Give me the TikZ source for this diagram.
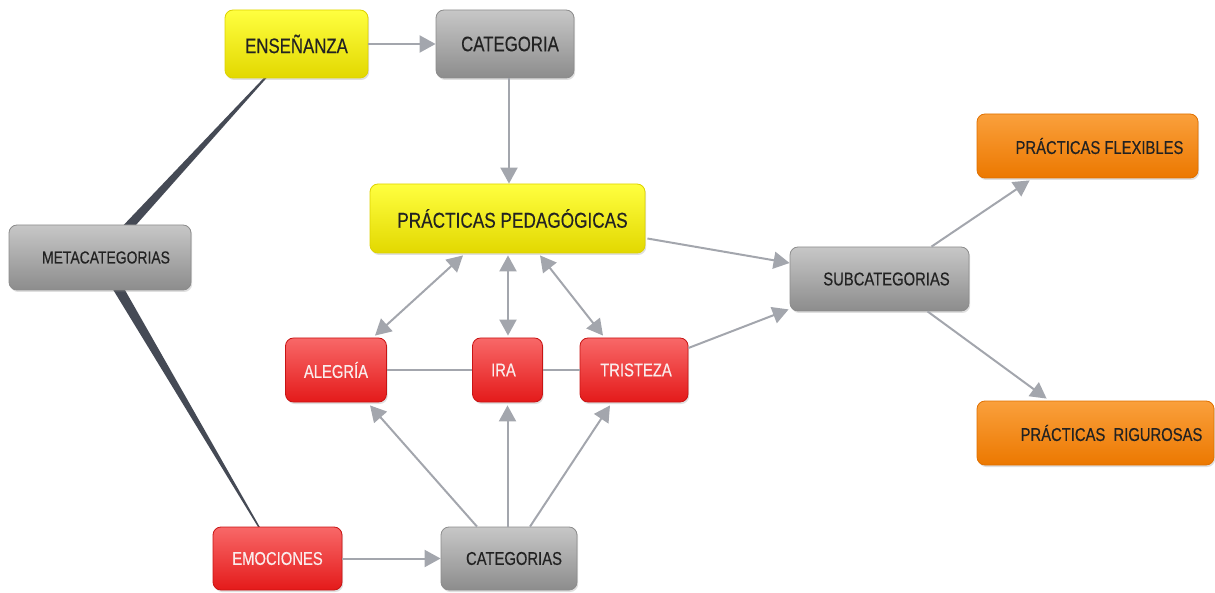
\documentclass[tikz,border=0pt]{standalone}
\usepackage{fontspec}
\setmainfont{Liberation Sans}[FakeStretch=0.80, FakeBold=0.35]
\usetikzlibrary{arrows.meta,calc,shadows,backgrounds}

\definecolor{txtdark}{HTML}{222222}
\definecolor{txtlight}{HTML}{FAEDED}
\definecolor{linkgray}{HTML}{A3A6AD}
\definecolor{wedgecol}{HTML}{454A55}

\tikzset{
  box/.style={rounded corners=8pt, line width=0.8pt, shading=axis,
    drop shadow={opacity=0.25, shadow xshift=1.2pt, shadow yshift=-2pt},
    font=\fontsize{18.5}{20}\selectfont, text=txtdark, inner sep=0pt},
  yellowbox/.style={box, draw=yellow!70!olive, top color=yellow!75!white,
    middle color={rgb,255:red,238;green,230;blue,10}, bottom color={rgb,255:red,226;green,216;blue,0}},
  graybox/.style={box, draw=black!45, top color=black!22, middle color=black!33,
    bottom color=black!45},
  redbox/.style={box, draw={rgb,255:red,200;green,20;blue,20}, text=txtlight,
    top color={rgb,255:red,248;green,104;blue,104}, middle color={rgb,255:red,240;green,50;blue,50},
    bottom color={rgb,255:red,228;green,26;blue,26}},
  orangebox/.style={box, draw={rgb,255:red,224;green,112;blue,0},
    top color={rgb,255:red,250;green,160;blue,60}, middle color={rgb,255:red,242;green,130;blue,10},
    bottom color={rgb,255:red,236;green,120;blue,0}},
  tx/.style={execute at begin node={\hspace*{#1}}},
  link/.style={draw=linkgray, line width=2pt},
  arr/.style={link, -{Triangle[length=16pt,width=17pt]}},
  biarr/.style={link, {Triangle[length=16pt,width=17pt]}-{Triangle[length=16pt,width=17pt]}},
  wedge/.style={fill=wedgecol, draw=none},
}

\begin{document}
\begin{tikzpicture}[x=1pt, y=-1pt]
\useasboundingbox (0,0) rectangle (1215,593);

% concept boxes
\node[yellowbox, minimum width=143pt, minimum height=68pt, font=\fontsize{21}{23}\selectfont]
  (ens) at (296.5,44) {ENSEÑANZA};
\node[graybox, minimum width=138pt, minimum height=68pt, font=\fontsize{21}{23}\selectfont, tx=10pt]
  (cat) at (505,44) {CATEGORIA};
\node[yellowbox, minimum width=275pt, minimum height=69pt, font=\fontsize{21.5}{23}\selectfont, tx=10pt]
  (pp) at (507.5,218.5) {PRÁCTICAS PEDAGÓGICAS};
\node[graybox, minimum width=182pt, minimum height=65pt, font=\fontsize{17.4}{19}\selectfont, tx=12pt]
  (meta) at (100,257.5) {METACATEGORIAS};
\node[graybox, minimum width=179pt, minimum height=64pt, tx=14pt]
  (sub) at (879.5,279) {SUBCATEGORIAS};
\node[orangebox, minimum width=221pt, minimum height=64pt, tx=24pt]
  (flex) at (1087.5,146) {PRÁCTICAS FLEXIBLES};
\node[orangebox, minimum width=237pt, minimum height=64pt, tx=32pt]
  (rig) at (1095.5,433) {PRÁCTICAS\ \ RIGUROSAS};
\node[redbox, minimum width=101pt, minimum height=64pt]
  (ale) at (336,370) {ALEGRÍA};
\node[redbox, minimum width=70pt, minimum height=64pt, tx=-8pt]
  (ira) at (507.5,370) {IRA};
\node[redbox, minimum width=108pt, minimum height=64pt, tx=4pt]
  (tri) at (634,370) {TRISTEZA};
\node[redbox, minimum width=129pt, minimum height=63pt]
  (emo) at (277.5,558.5) {EMOCIONES};
\node[graybox, minimum width=136pt, minimum height=63pt, tx=10pt]
  (cats) at (509,558.5) {CATEGORIAS};

% tapering links from the meta-category
\begin{scope}[on background layer]
  \path[wedge] ($(meta.center)!5.3pt!90:(ens.center)$) -- ($(ens.center)!0.2pt!-90:(meta.center)$)
    -- ($(ens.center)!0.2pt!90:(meta.center)$) -- ($(meta.center)!5.3pt!-90:(ens.center)$) -- cycle;
  \path[wedge] ($(meta.center)!5.6pt!90:(emo.center)$) -- ($(emo.center)!0.2pt!-90:(meta.center)$)
    -- ($(emo.center)!0.2pt!90:(meta.center)$) -- ($(meta.center)!5.6pt!-90:(emo.center)$) -- cycle;
\end{scope}

% arrows
\draw[arr] (ens.east) -- (cat.west);
\draw[arr] ($(cat.south)+(4,0)$) -- ($(pp.north)+(1.5,0)$);
\draw[arr] ($(pp.east)+(2,20)$) -- ($(sub.west)+(0,-16)$);
\draw[arr] ($(tri.east)+(0,-22)$) -- ($(sub.south west)+(-1,-2)$);
\draw[arr] ($(sub.north)+(52,0)$) -- ($(flex.south west)+(53,2)$);
\draw[arr] ($(sub.south)+(48,0)$) -- ($(rig.north west)+(70,-2)$);

\draw[biarr] ($(pp.south)+(-44.5,2)$) -- ($(ale.north)+(39,-2)$);
\draw[biarr] ($(pp.south)+(0.5,2)$) -- ($(ira.north)+(0.5,-2)$);
\draw[biarr] ($(pp.south)+(32.5,2)$) -- ($(tri.north)+(-31,-2)$);

\draw[link] (ale.east) -- (ira.west);
\draw[link] (ira.east) -- (tri.west);

\draw[arr] ($(cats.north)+(-32,0)$) -- ($(ale.south)+(34,3)$);
\draw[arr] ($(cats.north)+(-1.5,0)$) -- ($(ira.south)+(0,3)$);
\draw[arr] ($(cats.north)+(21,0)$) -- ($(tri.south)+(-24,3)$);
\draw[arr] (emo.east) -- (cats.west);
\end{tikzpicture}
\end{document}
